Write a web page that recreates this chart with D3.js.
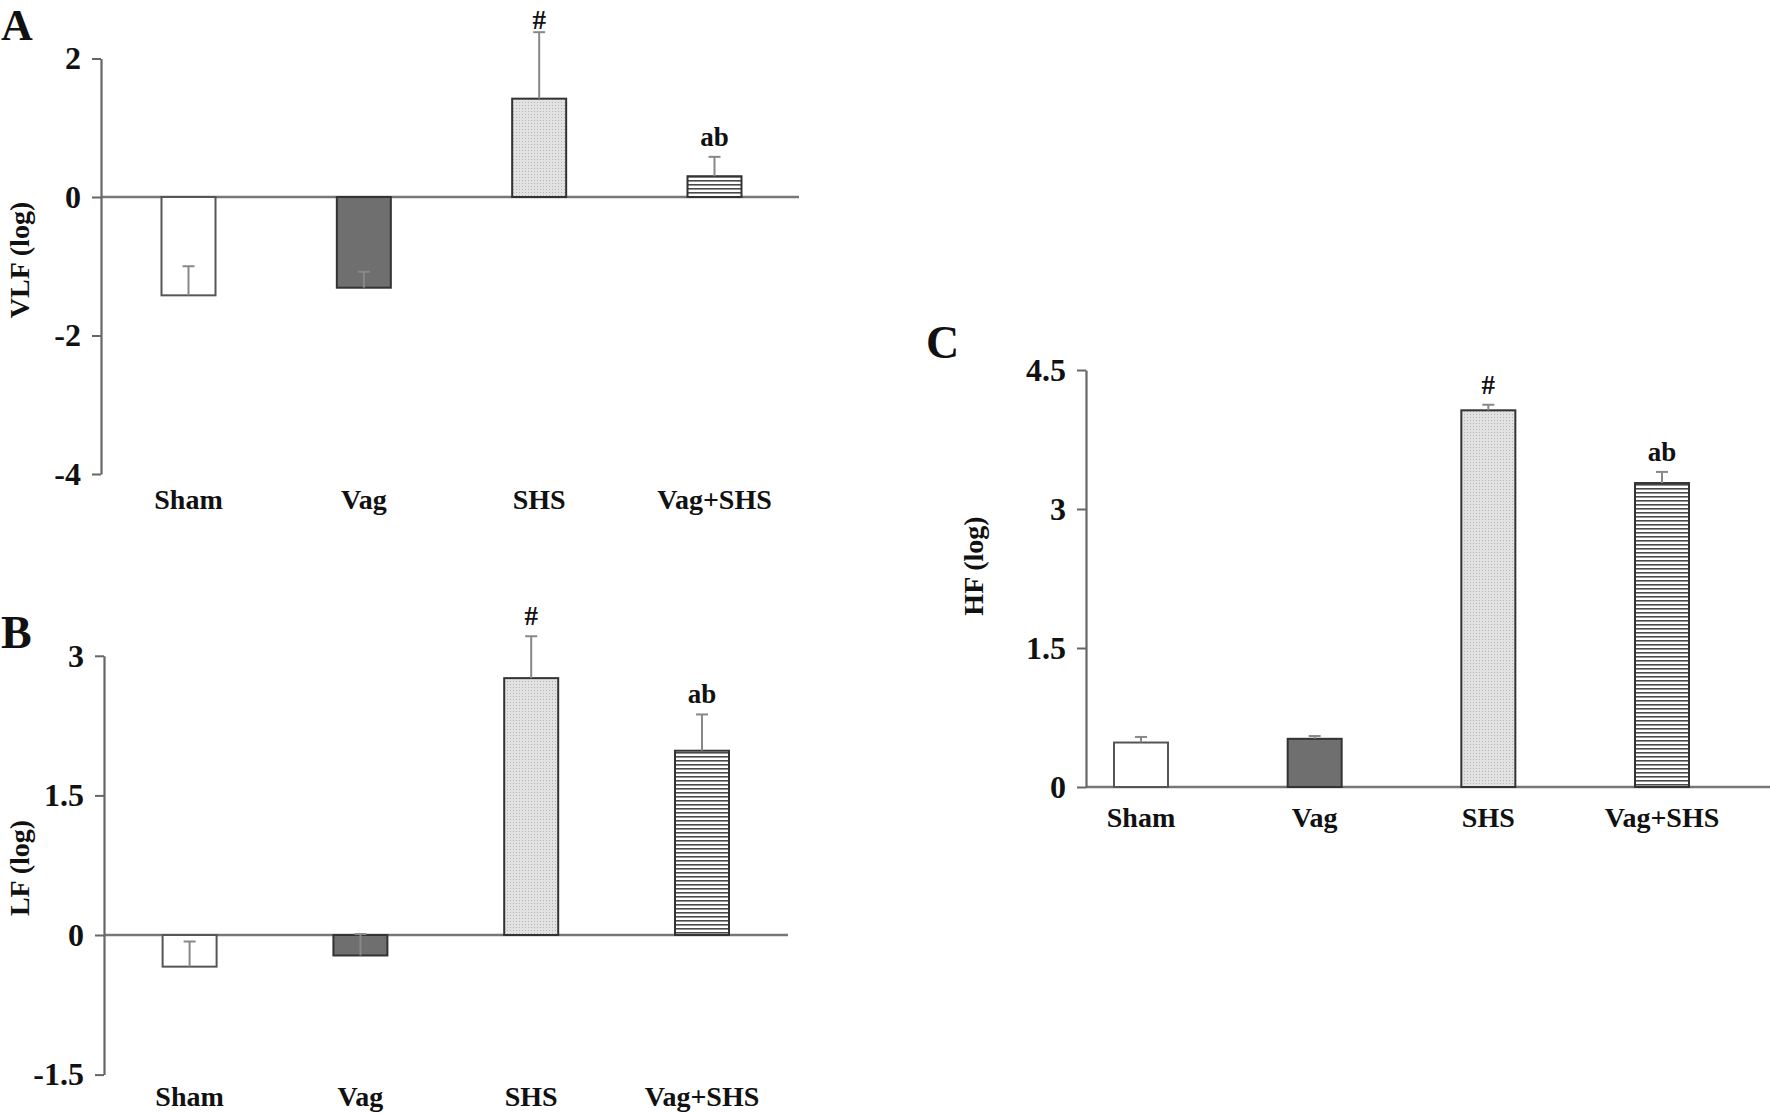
<!DOCTYPE html>
<html>
<head>
<meta charset="utf-8">
<script src="https://cdn.jsdelivr.net/npm/d3@7"></script>
<style>
  html, body { margin: 0; padding: 0; background: #fff; }
  svg { display: block; }
  text { font-family: "Liberation Serif", "Times New Roman", serif; font-weight: bold; fill: #111; }
</style>
</head>
<body>
<svg id="chart" width="1770" height="1113"></svg>
<script>
// ---- data ----
const categories = ["Sham", "Vag", "SHS", "Vag+SHS"];
const annotations = ["", "", "#", "ab"];

const vlfMean = [-1.42, -1.31, 1.42, 0.30];
const vlfErr  = [0.42, 0.23, 0.96, 0.28];
const vlfTicks = [-4, -2, 0, 2];

const lfMean = [-0.34, -0.22, 2.76, 1.98];
const lfErr  = [0.27, 0.23, 0.45, 0.39];
const lfTicks = [-1.5, 0, 1.5, 3];

const hfMean = [0.48, 0.52, 4.065, 3.28];
const hfErr  = [0.06, 0.03, 0.06, 0.12];
const hfTicks = [0, 1.5, 3, 4.5];

// ---- drawing ----
const svg = d3.select("#chart");
const defs = svg.append("defs");

const dots = defs.append("pattern").attr("id", "dots")
  .attr("patternUnits", "userSpaceOnUse").attr("width", 3).attr("height", 3);
dots.append("rect").attr("width", 3).attr("height", 3).attr("fill", "#e2e2e2");
dots.append("rect").attr("width", 1).attr("height", 1).attr("fill", "#b4b4b4");

const stripes = defs.append("pattern").attr("id", "stripes")
  .attr("patternUnits", "userSpaceOnUse").attr("width", 8).attr("height", 4);
stripes.append("rect").attr("width", 8).attr("height", 4).attr("fill", "#fff");
stripes.append("rect").attr("y", 0).attr("width", 8).attr("height", 1.6).attr("fill", "#4a4a4a");

const barFill = ["#ffffff", "#6f6f6f", "url(#dots)", "url(#stripes)"];
const barStroke = ["#555", "#333", "#333", "#333"];

function panel(cfg) {
  const g = svg.append("g");
  const y = d3.scaleLinear().domain(cfg.domain).range(cfg.yRange);
  const x = d3.scalePoint().domain(categories).range(cfg.xCenters);
  const bw = 54;

  // zero line
  g.append("line")
    .attr("x1", cfg.axisX).attr("x2", cfg.zeroEnd)
    .attr("y1", y(0)).attr("y2", y(0))
    .attr("stroke", "#777").attr("stroke-width", 2.5);

  // y axis
  const ax = g.append("g").attr("transform", `translate(${cfg.axisX},0)`)
    .call(d3.axisLeft(y).tickValues(cfg.ticks).tickSize(9).tickSizeOuter(0).tickPadding(11)
      .tickFormat(d => String(d)));
  ax.select(".domain").attr("stroke", "#666").attr("stroke-width", 2.2);
  ax.selectAll(".tick line").attr("stroke", "#666").attr("stroke-width", 2);
  ax.selectAll(".tick text").attr("font-size", 32)
    .attr("font-family", "Liberation Serif").attr("font-weight", "bold").attr("fill", "#111");

  // bars
  g.selectAll("rect.bar").data(cfg.mean).enter().append("rect")
    .attr("class", "bar")
    .attr("x", (d, i) => x(categories[i]) - bw / 2)
    .attr("width", bw)
    .attr("y", d => Math.min(y(d), y(0)))
    .attr("height", d => Math.abs(y(d) - y(0)))
    .attr("fill", (d, i) => barFill[i])
    .attr("stroke", (d, i) => barStroke[i])
    .attr("stroke-width", 2);

  // error bars (mean + SE)
  cfg.mean.forEach((m, i) => {
    const cx = x(categories[i]);
    const top = m + cfg.err[i];
    g.append("line").attr("x1", cx).attr("x2", cx)
      .attr("y1", y(m)).attr("y2", y(top))
      .attr("stroke", "#888").attr("stroke-width", 2);
    g.append("line").attr("x1", cx - 6).attr("x2", cx + 6)
      .attr("y1", y(top)).attr("y2", y(top))
      .attr("stroke", "#888").attr("stroke-width", 2);
    if (annotations[i]) {
      g.append("text").attr("x", cx).attr("y", Math.max(y(top) - 11, 29))
        .attr("text-anchor", "middle").attr("font-size", 27)
        .text(annotations[i]);
    }
  });

  // category labels
  g.selectAll("text.cat").data(categories).enter().append("text")
    .attr("class", "cat")
    .attr("x", d => x(d)).attr("y", cfg.labelY)
    .attr("text-anchor", "middle").attr("font-size", 28)
    .text(d => d);

  // y title
  g.append("text")
    .attr("transform", `translate(${cfg.titleX},${cfg.titleY}) rotate(-90)`)
    .attr("text-anchor", "middle").attr("font-size", 28)
    .text(cfg.title);

  // panel letter
  g.append("text").attr("x", cfg.letterX).attr("y", cfg.letterY)
    .attr("font-size", cfg.letterSize).text(cfg.letter);
}

panel({
  mean: vlfMean, err: vlfErr, ticks: vlfTicks, domain: [-4, 2], yRange: [474, 58.5],
  axisX: 101, zeroEnd: 799, xCenters: [188.5, 714.5], labelY: 509,
  title: "VLF (log)", titleX: 29, titleY: 260, letter: "A", letterX: 1, letterY: 40, letterSize: 44
});
panel({
  mean: lfMean, err: lfErr, ticks: lfTicks, domain: [-1.5, 3], yRange: [1074.6, 655.8],
  axisX: 104, zeroEnd: 788, xCenters: [189.6, 702], labelY: 1106,
  title: "LF (log)", titleX: 29, titleY: 868, letter: "B", letterX: 1, letterY: 648, letterSize: 46
});
panel({
  mean: hfMean, err: hfErr, ticks: hfTicks, domain: [0, 4.5], yRange: [787, 370],
  axisX: 1086, zeroEnd: 1770, xCenters: [1141, 1662], labelY: 827,
  title: "HF (log)", titleX: 983, titleY: 566, letter: "C", letterX: 926, letterY: 358, letterSize: 46
});
</script>
</body>
</html>
